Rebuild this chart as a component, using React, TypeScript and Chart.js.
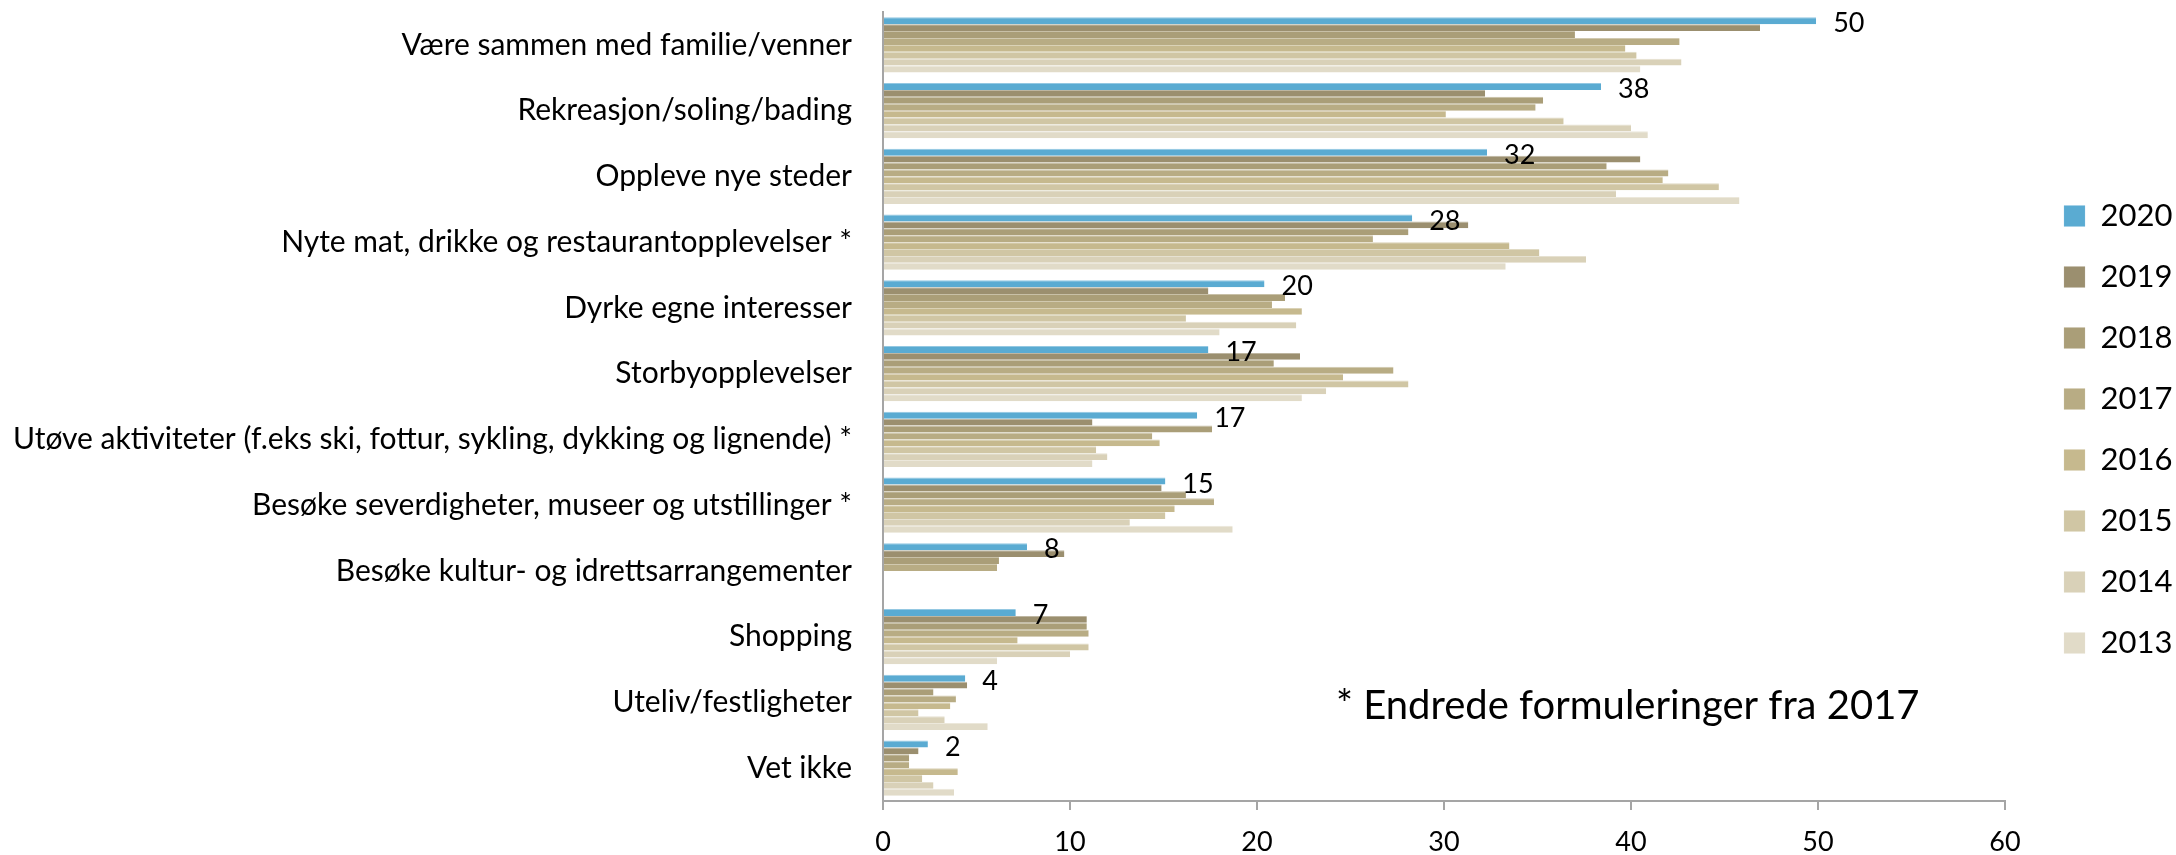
import React, { useEffect, useRef } from "react";
import { Chart, registerables } from "chart.js";

Chart.register(...registerables);

const categories = [
  "Være sammen med familie/venner",
  "Rekreasjon/soling/bading",
  "Oppleve nye steder",
  "Nyte mat, drikke og restaurantopplevelser *",
  "Dyrke egne interesser",
  "Storbyopplevelser",
  "Utøve aktiviteter (f.eks ski, fottur, sykling, dykking og lignende) *",
  "Besøke severdigheter, museer og utstillinger *",
  "Besøke kultur- og idrettsarrangementer",
  "Shopping",
  "Uteliv/festligheter",
  "Vet ikke",
];

const years = ["2020", "2019", "2018", "2017", "2016", "2015", "2014", "2013"];

const v2020 = [49.9, 38.4, 32.3, 28.3, 20.4, 17.4, 16.8, 15.1, 7.7, 7.1, 4.4, 2.4];
const v2019 = [46.9, 32.2, 40.5, 31.3, 17.4, 22.3, 11.2, 14.9, 9.7, 10.9, 4.5, 1.9];
const v2018 = [37.0, 35.3, 38.7, 28.1, 21.5, 20.9, 17.6, 16.2, 6.2, 10.9, 2.7, 1.4];
const v2017 = [42.6, 34.9, 42.0, 26.2, 20.8, 27.3, 14.4, 17.7, 6.1, 11.0, 3.9, 1.4];
const v2016 = [39.7, 30.1, 41.7, 33.5, 22.4, 24.6, 14.8, 15.6, null, 7.2, 3.6, 4.0];
const v2015 = [40.3, 36.4, 44.7, 35.1, 16.2, 28.1, 11.4, 15.1, null, 11.0, 1.9, 2.1];
const v2014 = [42.7, 40.0, 39.2, 37.6, 22.1, 23.7, 12.0, 13.2, null, 10.0, 3.3, 2.7];
const v2013 = [40.5, 40.9, 45.8, 33.3, 18.0, 22.4, 11.2, 18.7, null, 6.1, 5.6, 3.8];

const seriesValues = [v2020, v2019, v2018, v2017, v2016, v2015, v2014, v2013];

const colors = ["#5AABD2", "#9B8F6F", "#AA9E78", "#B8AC84", "#C6B98E", "#D0C6A4", "#D9D1B8", "#E1DBC8"];

const xTicks = [0, 10, 20, 30, 40, 50, 60];

const note = "* Endrede formuleringer fra 2017";

const FONT = "Lato";

function tint(hex: string, amt: number) {
  const n = parseInt(hex.slice(1), 16);
  const r = (n >> 16) & 255, g = (n >> 8) & 255, b = n & 255;
  const m = (c: number) => Math.round(c + (255 - c) * amt);
  return `rgb(${m(r)},${m(g)},${m(b)})`;
}

const LEGEND_W = 171;
const LEGEND_LEFT = 2034;

const legendFix = {
  id: "legendFix",
  beforeLayout(chart: any) {
    const lg: any = chart.legend;
    if (lg && !lg.__patched) {
      const orig = lg.fit;
      lg.fit = function () {
        orig.call(this);
        this.width = LEGEND_W;
      };
      lg.__patched = true;
    }
  },
  afterLayout(chart: any) {
    const lg: any = chart.legend;
    if (lg) {
      lg.left = LEGEND_LEFT;
      lg.right = LEGEND_LEFT + LEGEND_W;
      lg.top -= 4;
      lg.bottom -= 4;
    }
  },
};

const valueLabels = {
  id: "valueLabels",
  afterDatasetsDraw(chart: any) {
    const ctx = chart.ctx;
    const meta = chart.getDatasetMeta(0);
    ctx.save();
    ctx.font = `27px ${FONT}`;
    ctx.fillStyle = "#000";
    ctx.textAlign = "left";
    ctx.textBaseline = "middle";
    meta.data.forEach((el: any, i: number) => {
      const v = v2020[i];
      if (v == null) return;
      ctx.fillText(String(Math.round(v)), el.x + 17, el.y + 3);
    });
    ctx.restore();
  },
};

const noteText = {
  id: "noteText",
  afterDraw(chart: any) {
    const ctx = chart.ctx;
    const ca = chart.chartArea;
    ctx.save();
    ctx.font = `40px ${FONT}`;
    ctx.fillStyle = "#000";
    ctx.textAlign = "left";
    ctx.textBaseline = "alphabetic";
    ctx.fillText(note, ca.left + 453, ca.top + 707);
    ctx.restore();
  },
};

export default function App() {
  const ref = useRef<HTMLCanvasElement | null>(null);

  useEffect(() => {
    if (!ref.current) return;
    const chart = new Chart(ref.current, {
      type: "bar",
      data: {
        labels: categories,
        datasets: years.map((y, i) => ({
          label: y,
          data: seriesValues[i],
          backgroundColor: colors[i],
          borderColor: tint(colors[i], 0.35),
          borderWidth: { top: 1, bottom: 0, left: 0, right: 0 },
          borderSkipped: false,
          barPercentage: 1,
          categoryPercentage: 0.84,
        })),
      },
      options: {
        indexAxis: "y",
        responsive: false,
        animation: false,
        devicePixelRatio: 1,
        layout: { padding: { top: 12, left: 0, right: 0, bottom: 0 } },
        plugins: {
          legend: {
            position: "right",
            align: "center",
            labels: {
              boxWidth: 21,
              boxHeight: 21,
              padding: 30,
              color: "#000",
              font: { family: FONT, size: 31 },
            },
          },
          tooltip: { enabled: false },
        },
        scales: {
          x: {
            type: "linear",
            position: "bottom",
            min: xTicks[0],
            max: xTicks[xTicks.length - 1],
            afterBuildTicks: (s: any) => {
              s.ticks = xTicks.map((v) => ({ value: v }));
            },
            ticks: {
              stepSize: 10,
              color: "#000",
              font: { family: FONT, size: 27 },
              padding: 16,
            },
            grid: {
              drawOnChartArea: false,
              drawTicks: true,
              tickLength: 9,
              color: "#A5A5A5",
              lineWidth: 2,
            },
            border: { display: true, color: "#A5A5A5", width: 2 },
            afterFit: (s: any) => {
              s.height = 54;
            },
          },
          y: {
            type: "category",
            ticks: {
              color: "#000",
              font: { family: FONT, size: 30 },
              padding: 31,
              autoSkip: false,
            },
            grid: { display: false, drawTicks: false },
            border: { display: true, color: "#A5A5A5", width: 2 },
            afterFit: (s: any) => {
              s.width = 883;
              s.paddingTop = 0;
              s.paddingBottom = 0;
            },
          },
        },
      },
      plugins: [legendFix, valueLabels, noteText],
    } as any);
    return () => chart.destroy();
  }, []);

  return (
    <div style={{ position: "absolute", left: 0, top: 0, width: 2176, height: 855, background: "#fff" }}>
      <canvas ref={ref} width={2176} height={855} style={{ display: "block" }} />
    </div>
  );
}
